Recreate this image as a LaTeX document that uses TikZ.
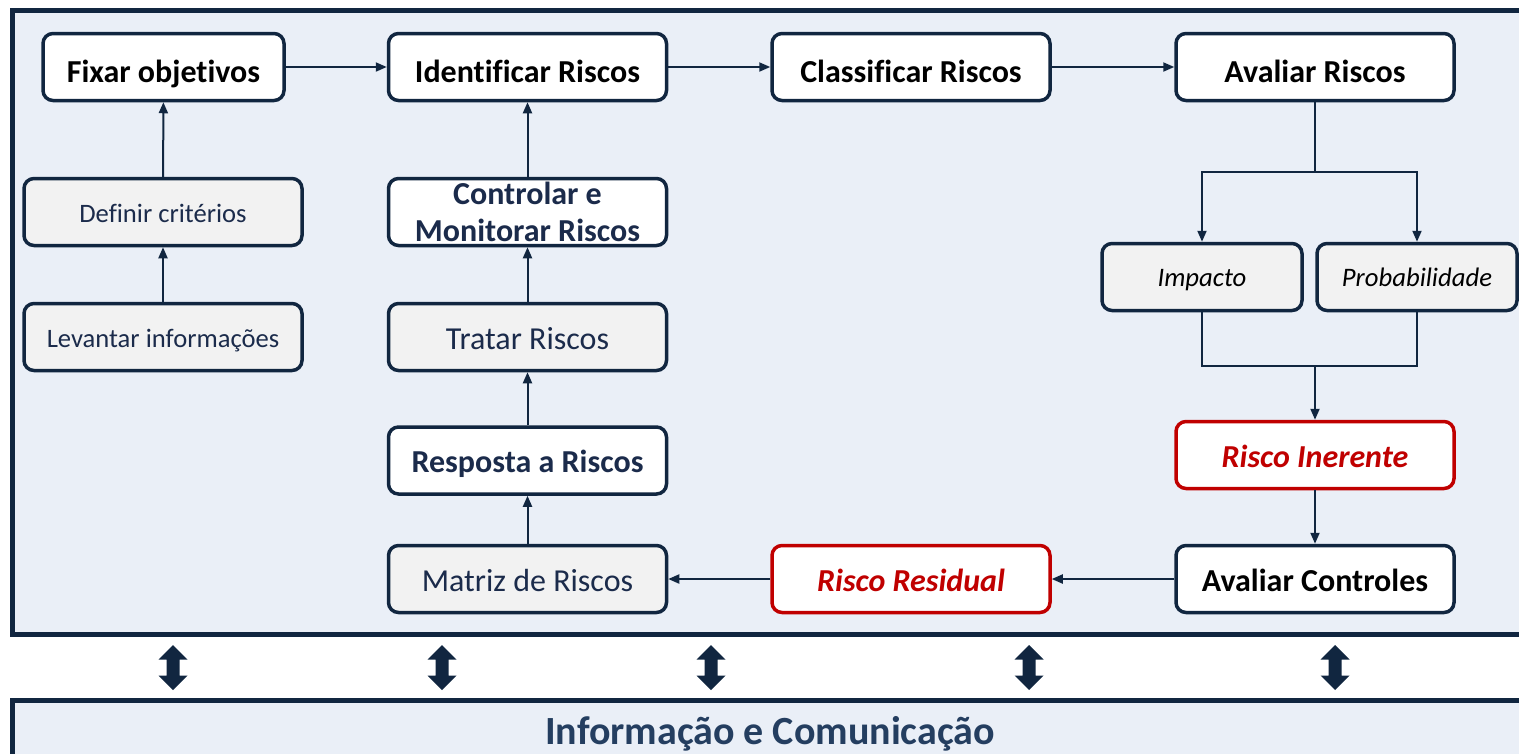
\documentclass[tikz,border=0pt]{standalone}
\usepackage{fontspec}
\setmainfont{Carlito}[Ligatures=NoCommon]
\usetikzlibrary{arrows.meta}
\definecolor{navy}{RGB}{17,38,64}
\definecolor{bgblue}{RGB}{234,239,247}
\definecolor{boxgray}{RGB}{242,242,242}
\definecolor{redline}{RGB}{192,0,0}
\definecolor{txtnavy}{RGB}{27,43,75}
\definecolor{bartxt}{RGB}{36,62,96}
\tikzset{
  box/.style={draw=navy, line width=3.5pt, rounded corners=10pt, fill=white,
    minimum width=278pt, minimum height=67pt, inner sep=0pt, align=center,
    font=\fontsize{32}{37}\selectfont\bfseries, text=black,
    text height=24pt, text depth=0pt},
  toprow/.style={box, text height=30pt},
  twoline/.style={draw=navy, line width=3.5pt, rounded corners=10pt, fill=white,
    minimum width=278pt, minimum height=67pt, inner sep=0pt, align=center,
    font=\fontsize{32}{37}\selectfont\bfseries, text=txtnavy},
  graybox/.style={box, fill=boxgray, font=\fontsize{32}{37}\selectfont, text=txtnavy},
  smallgray/.style={graybox, font=\fontsize{26.6}{31}\selectfont, text height=21.4pt},
  redbox/.style={box, draw=redline, text=redline, font=\fontsize{32}{37}\selectfont\bfseries\itshape},
  ital/.style={box, fill=boxgray, minimum width=200pt, font=\fontsize{26.7}{31}\selectfont\itshape, text height=19.4pt},
  conn/.style={draw=navy, line width=2pt},
  arr/.style={conn, -{Triangle[length=11pt,width=9pt]}},
  dblarrow/.style={fill=navy, draw=none}
}
\newcommand{\mydbl}[1]{%
  \fill[dblarrow] (#1,645) -- (#1+14.5,659.5) -- (#1+6.5,659.5) -- (#1+6.5,675.5)
    -- (#1+14.5,675.5) -- (#1,690) -- (#1-14.5,675.5) -- (#1-6.5,675.5)
    -- (#1-6.5,659.5) -- (#1-14.5,659.5) -- cycle;}
\begin{document}
\begin{tikzpicture}[x=1pt,y=-1pt]
\useasboundingbox (0,0) rectangle (1519,753);
% frames
\draw[navy, line width=5pt, fill=bgblue] (12,10) rectangle (1540,634.5);
\draw[navy, line width=5pt, fill=bgblue] (12,700.5) rectangle (1540,780);
\node[text=bartxt, font=\fontsize{40}{48}\selectfont\bfseries, anchor=base] (info) at (770,744) {Informação e Comunicação};
% double arrows
\mydbl{173}
\mydbl{442}
\mydbl{711}
\mydbl{1029}
\mydbl{1335}
% row 1
\node[toprow, minimum width=241pt] (fix) at (163.5,67) {Fixar objetivos};
\node[toprow] (ident) at (527.5,67) {Identificar Riscos};
\node[toprow] (class) at (911,67) {Classificar Riscos};
\node[toprow] (aval) at (1315,67) {Avaliar Riscos};
% column 1
\node[smallgray] (def) at (163,212) {Definir critérios};
\node[smallgray] (lev) at (163,337) {Levantar informações};
% column 2
\node[twoline] (ctrl) at (527.5,212) {Controlar e\\Monitorar Riscos};
\node[graybox] (trat) at (527.5,337) {Tratar Riscos};
\node[box, text=txtnavy] (resp) at (527.5,460.5) {Resposta a Riscos};
\node[graybox] (matr) at (527.5,579) {Matriz de Riscos};
% column 3
\node[redbox] (resid) at (911,579) {Risco Residual};
% column 4
\node[ital] (imp) at (1202,277) {Impacto};
\node[ital] (prob) at (1417,277) {Probabilidade};
\node[redbox] (iner) at (1315,455) {Risco Inerente};
\node[box] (actrl) at (1315,579) {Avaliar Controles};
% connectors
\draw[arr] (fix) -- (ident);
\draw[arr] (ident) -- (class);
\draw[arr] (class) -- (aval);
\draw[arr] (def) -- (fix);
\draw[arr] (lev) -- (def);
\draw[arr] (ctrl) -- (ident);
\draw[arr] (trat) -- (ctrl);
\draw[arr] (resp) -- (trat);
\draw[arr] (matr) -- (resp);
\coordinate (split) at (1315,172);
\coordinate (merge) at (1315,366);
\draw[conn] (aval) -- (split);
\draw[arr] (split) -| (imp);
\draw[arr] (split) -| (prob);
\draw[conn] (imp) |- (merge);
\draw[conn] (prob) |- (merge);
\draw[arr] (merge) -- (iner);
\draw[arr] (iner) -- (actrl);
\draw[arr] (actrl) -- (resid);
\draw[arr] (resid) -- (matr);
\end{tikzpicture}
\end{document}
